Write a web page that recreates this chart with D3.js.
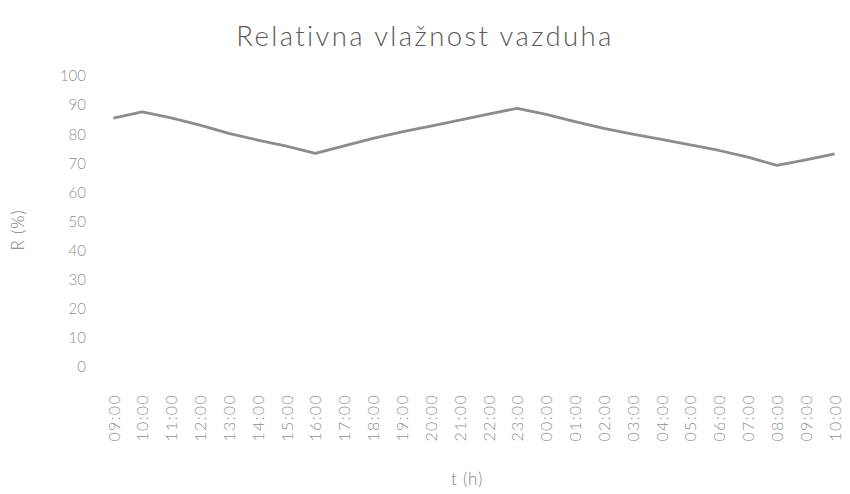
<!DOCTYPE html>
<html>
<head>
<meta charset="utf-8">
<script src="https://cdn.jsdelivr.net/npm/d3@7"></script>
<style>
  body { margin: 0; background: #fff; }
  svg { display: block; }
  text { font-family: Lato, "Open Sans", sans-serif; }
</style>
</head>
<body>
<svg id="chart" width="850" height="494"></svg>
<script>
const categories = ["09:00","10:00","11:00","12:00","13:00","14:00","15:00","16:00","17:00","18:00","19:00","20:00","21:00","22:00","23:00","00:00","01:00","02:00","03:00","04:00","05:00","06:00","07:00","08:00","09:00","10:00"];
const humidity = [85.5, 87.7, 85.6, 83.1, 80.3, 78.0, 75.9, 73.4, 76.0, 78.6, 80.8, 82.8, 84.8, 86.9, 88.9, 86.8, 84.3, 82.0, 80.0, 78.2, 76.3, 74.4, 72.1, 69.3, 71.2, 73.2];
const yTicks = [0, 10, 20, 30, 40, 50, 60, 70, 80, 90, 100];
const titleText = "Relativna vlažnost vazduha";
const xTitle = "t (h)";
const yTitle = "R (%)";

const svg = d3.select("#chart");
const plot = { left: 99, right: 849, top: 76, bottom: 367 };

const idx = categories.map((d, i) => i);
const x = d3.scalePoint().domain(idx).range([plot.left, plot.right]).padding(0.5);
const y = d3.scaleLinear().domain([0, 100]).range([plot.bottom, plot.top]);

// title
svg.append("text")
  .attr("x", 425).attr("y", 46)
  .attr("text-anchor", "middle")
  .attr("font-size", 27.5)
  .attr("font-weight", 300)
  .attr("fill", "#595959")
  .attr("letter-spacing", 2.4)
  .text(titleText);

// y axis
const yAxis = d3.axisLeft(y).tickValues(yTicks).tickSize(0).tickPadding(0);
const gy = svg.append("g").attr("transform", `translate(${plot.left - 13},0)`).call(yAxis);
gy.select(".domain").remove();
gy.selectAll("text")
  .attr("font-size", 15)
  .attr("font-weight", 300)
  .attr("fill", "#909090")
  .attr("font-family", "Lato, sans-serif");

// x axis
const xAxis = d3.axisBottom(x).tickFormat(i => categories[i]).tickSize(0).tickPadding(0);
const gx = svg.append("g").attr("transform", `translate(0,${plot.bottom + 27})`).call(xAxis);
gx.select(".domain").remove();
gx.selectAll("text")
  .attr("font-size", 16)
  .attr("font-weight", 300)
  .attr("fill", "#909090")
  .attr("letter-spacing", 1.3)
  .attr("font-family", "Lato, sans-serif")
  .attr("text-anchor", "end")
  .attr("dy", "0.35em")
  .attr("transform", "rotate(-90)")
  .attr("x", 0).attr("y", 0);

// axis titles
svg.append("text")
  .attr("x", 467).attr("y", 485)
  .attr("text-anchor", "middle")
  .attr("font-size", 17)
  .attr("font-weight", 300)
  .attr("fill", "#808080")
  .attr("letter-spacing", 0.8)
  .text(xTitle);

svg.append("text")
  .attr("transform", `translate(24,230) rotate(-90)`)
  .attr("text-anchor", "middle")
  .attr("font-size", 17)
  .attr("font-weight", 300)
  .attr("fill", "#808080")
  .attr("letter-spacing", 0.8)
  .text(yTitle);

// line
const line = d3.line().x((d, i) => x(i)).y(d => y(d));
svg.append("path")
  .datum(humidity)
  .attr("d", line)
  .attr("fill", "none")
  .attr("stroke", "#8c8c8c")
  .attr("stroke-width", 2.8)
  .attr("stroke-linejoin", "round");
</script>
</body>
</html>
